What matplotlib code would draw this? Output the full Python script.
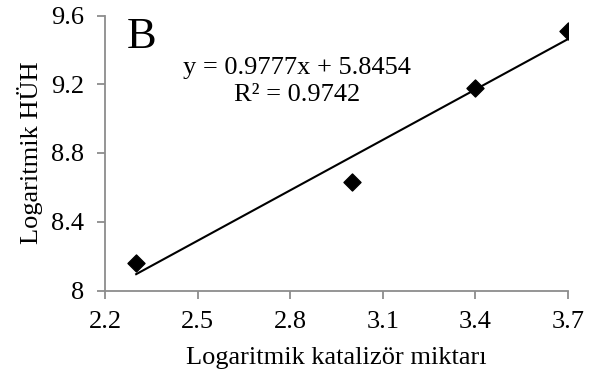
import numpy as np
import matplotlib.pyplot as plt

plt.rcParams['font.family'] = ['Liberation Serif', 'DejaVu Serif']

# log katalizör miktarı ve log HÜH
log_kat = [2.301, 3.0, 3.398, 3.699]
log_huh = [8.16, 8.63, 9.18, 9.51]

# doğrusal trend
egim = 0.9777
kesim = 5.8454
r2 = 0.9742

x_ticks = [2.2, 2.5, 2.8, 3.1, 3.4, 3.7]
y_ticks = [8, 8.4, 8.8, 9.2, 9.6]

fig = plt.figure(figsize=(5.92, 3.77), dpi=100)
ax = fig.add_axes([105 / 592, 1 - 290.5 / 377, 463 / 592, 275 / 377])

xt = np.array([min(log_kat), max(log_kat)])
ax.plot(xt, egim * xt + kesim, color='black', linewidth=1.5)
ax.scatter(log_kat, log_huh, marker='D', s=75, color='black', zorder=3)

ax.set_xlim(2.2, 3.7)
ax.set_ylim(8, 9.6)
ax.set_xticks(x_ticks)
ax.set_yticks(y_ticks)
ax.set_xticklabels([f'{v:g}' for v in x_ticks])
ax.set_yticklabels([f'{v:g}' for v in y_ticks])

for s in ['top', 'right']:
    ax.spines[s].set_visible(False)
for s in ['left', 'bottom']:
    ax.spines[s].set_color('#8c8c8c')
    ax.spines[s].set_linewidth(1.3)
ax.tick_params(axis='both', colors='#8c8c8c', length=6, width=1.3,
               labelsize=19, labelcolor='black')
ax.tick_params(axis='x', pad=9)
ax.tick_params(axis='y', pad=9)

ax.set_xlabel('Logaritmik katalizör miktarı', fontsize=19, labelpad=10)
ax.set_ylabel('Logaritmik HÜH', fontsize=19, labelpad=6)

ax.text(0.047, 0.995, 'B', transform=ax.transAxes, fontsize=32,
        va='top', ha='left')
ax.text(0.415, 0.76, f'y = {egim}x + {kesim}\nR² = {r2}',
        transform=ax.transAxes, fontsize=19, ha='center', va='center',
        linespacing=1.3, multialignment='center')

fig.savefig('out.png', dpi=100)
